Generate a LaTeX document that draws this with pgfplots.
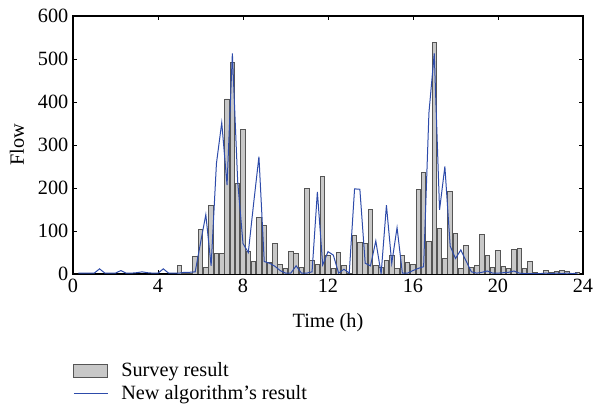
\documentclass[border=0pt]{standalone}
\usepackage{pgfplots}
\pgfplotsset{compat=1.18}
\usepackage{fontspec}
\setmainfont{Liberation Serif}

\definecolor{barfill}{RGB}{200,200,200}
\definecolor{baredge}{RGB}{85,85,85}
\definecolor{algblue}{RGB}{45,75,170}

\pgfplotsset{
  barleg/.style={legend image code/.code={\draw[##1] (0pt,-4.9pt) rectangle (25.5pt,4.9pt);}},
  lineleg/.style={legend image code/.code={\draw[##1] (0pt,0pt) -- (25.5pt,0pt);}},
}

\begin{document}
\begin{tikzpicture}[font=\fontsize{15.2}{18}\selectfont]
\begin{axis}[
    scale only axis,
    width=382.5pt, height=193.5pt,
    xmin=0, xmax=24, ymin=0, ymax=600,
    xtick={0,4,...,24}, ytick={0,100,...,600},
    /pgf/number format/assume math mode=true,
    major tick length=3pt,
    tick style={black, line width=0.6pt},
    axis line style={black, line width=0.8pt},
    xlabel={Time (h)}, ylabel={Flow},
    xlabel style={at={(axis description cs:0.5,-0.19)}, anchor=center},
    ylabel style={at={(axis description cs:-0.11,0.5)}, anchor=center},
    legend style={at={(axis description cs:0,-0.342)}, anchor=north west,
        draw=none, fill=none, inner sep=0pt, row sep=5pt, column sep=9.75pt,
        nodes={inner sep=0pt}},
    legend cell align=left,
]
\addplot[ybar, bar width=0.21, fill=barfill, draw=baredge, line width=0.7pt, barleg]
coordinates {
(5.0,19) (5.25,2) (5.5,2) (5.75,40) (6.0,104) (6.25,15) (6.5,159) (6.75,48)
(7.0,47) (7.25,407) (7.5,492) (7.75,210) (8.0,336) (8.25,52) (8.5,28) (8.75,132)
(9.0,112) (9.25,26) (9.5,71) (9.75,22) (10.0,13) (10.25,53) (10.5,47) (10.75,15)
(11.0,199) (11.25,31) (11.5,22) (11.75,227) (12.0,42) (12.25,12) (12.5,50) (12.75,20)
(13.0,2) (13.25,89) (13.5,74) (13.75,71) (14.0,151) (14.25,19) (14.5,16) (14.75,32)
(15.0,42) (15.25,13) (15.5,43) (15.75,27) (16.0,23) (16.25,196) (16.5,236) (16.75,76)
(17.0,538) (17.25,105) (17.5,36) (17.75,191) (18.0,95) (18.25,12) (18.5,67) (18.75,15)
(19.0,19) (19.25,92) (19.5,43) (19.75,15) (20.0,55) (20.25,18) (20.5,12) (20.75,56)
(21.0,59) (21.25,13) (21.5,29) (21.75,3) (22.0,2) (22.25,8) (22.5,4) (22.75,6)
(23.0,9) (23.25,5) (23.5,2) (23.75,3)
};
\addlegendentry{Survey result}
\addplot[algblue, line width=0.75pt, sharp plot, lineleg]
coordinates {
(0.25,2) (0.5,2) (0.75,2) (1.0,2) (1.25,12) (1.5,2) (1.75,2) (2.0,2)
(2.25,8) (2.5,2) (2.75,2) (3.0,3) (3.25,5) (3.5,3) (3.75,2) (4.0,2)
(4.25,12) (4.5,2) (4.75,2) (5.0,2) (5.25,4) (5.5,4) (5.75,5) (6.0,72)
(6.25,138) (6.5,19) (6.75,257) (7.0,352) (7.25,207) (7.5,513) (7.75,215) (8.0,71)
(8.25,50) (8.5,164) (8.75,273) (9.0,29) (9.25,25) (9.5,18) (9.75,8) (10.0,2)
(10.25,2) (10.5,19) (10.75,2) (11.0,2) (11.25,5) (11.5,191) (11.75,21) (12.0,52)
(12.25,44) (12.5,2) (12.75,11) (13.0,2) (13.25,198) (13.5,197) (13.75,25) (14.0,19)
(14.25,77) (14.5,0) (14.75,160) (15.0,25) (15.25,108) (15.5,2) (15.75,2) (16.0,8)
(16.25,13) (16.5,17) (16.75,375) (17.0,513) (17.25,149) (17.5,250) (17.75,65) (18.0,36)
(18.25,56) (18.5,30) (18.75,5) (19.0,2) (19.25,4) (19.5,7) (19.75,2) (20.0,2)
(20.25,3) (20.5,4) (20.75,7) (21.0,2) (21.25,1) (21.5,1) (21.75,1) (22.0,1)
(22.25,2) (22.5,1) (22.75,2) (23.0,1) (23.25,2) (23.5,1) (23.75,2)
};
\addlegendentry{New algorithm's result}
\end{axis}
% page frame, same margins as the reference
\path (current axis.south west) ++(-54.75pt,-102pt) rectangle ++(450.75pt,307.5pt);
\end{tikzpicture}
\end{document}
